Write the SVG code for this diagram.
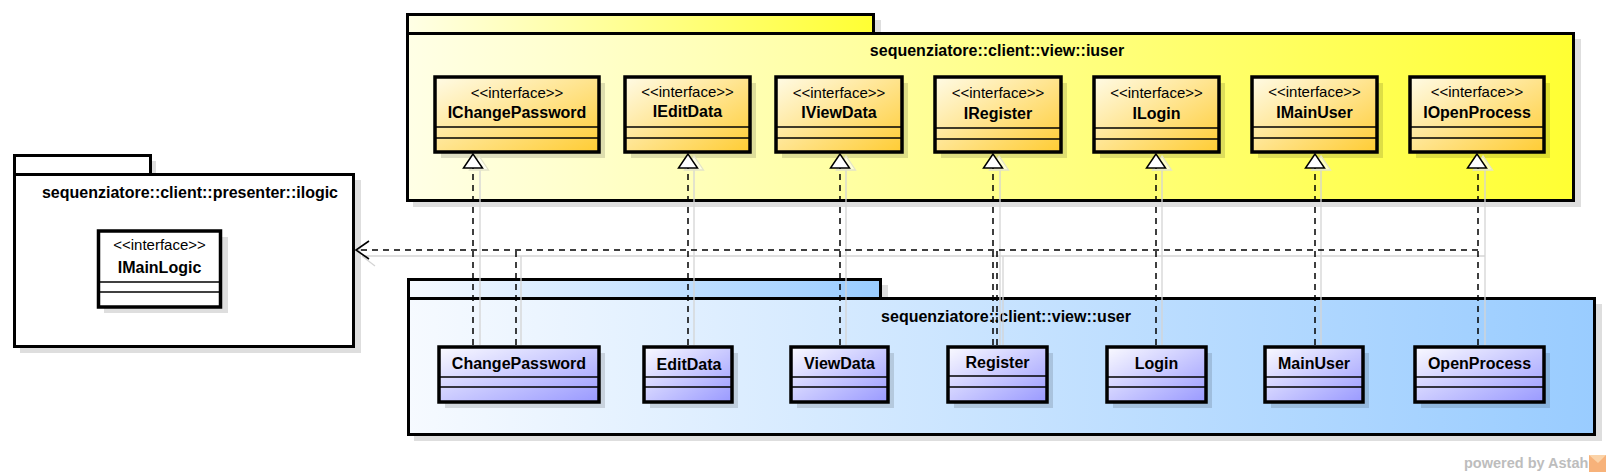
<svg xmlns="http://www.w3.org/2000/svg" width="1609" height="476" viewBox="0 0 1609 476">
<defs>
<linearGradient id="gYPkg" x1="0" y1="0" x2="1" y2="0"><stop offset="0" stop-color="#ffffe6"/><stop offset="1" stop-color="#ffff33"/></linearGradient>
<linearGradient id="gBPkg" x1="0" y1="0" x2="1" y2="0"><stop offset="0" stop-color="#f6faff"/><stop offset="1" stop-color="#99ccff"/></linearGradient>
<linearGradient id="gIf" x1="0" y1="0" x2="1" y2="1"><stop offset="0" stop-color="#fffbe6"/><stop offset="1" stop-color="#ffcc33"/></linearGradient>
<linearGradient id="gCl" x1="0" y1="0" x2="1" y2="1"><stop offset="0" stop-color="#fafaff"/><stop offset="1" stop-color="#9999ff"/></linearGradient>
</defs>
<style>
.pk{stroke:#000;stroke-width:3}
.sh{fill:#000;fill-opacity:0.13}
.bx{stroke:#000;stroke-width:3.5}
.cl{fill:url(#gCl)}
.if{fill:url(#gIf)}
.sep{stroke:#000;stroke-width:1.3}
.st{font-family:"Liberation Sans",Arial,sans-serif;font-size:15px;fill:#000;text-anchor:middle}
.nm{font-family:"Liberation Sans",Arial,sans-serif;font-size:16px;font-weight:bold;fill:#000;text-anchor:middle}
.dash{fill:none;stroke:#000;stroke-width:1.5;stroke-dasharray:6,5}
.shl{fill:none;stroke:#d4d4d4;stroke-width:1.3}
.tri{fill:#fff;stroke:#000;stroke-width:1.5}
.trs{fill:#fff;fill-opacity:0.6;stroke:#e4e4c8;stroke-width:1.3}
.wm{font-family:"Liberation Sans",Arial,sans-serif;font-size:14.5px;font-weight:bold;fill:#bdbdbd}
</style>

<g id="pkg-ilogic">
<rect class="sh" x="20" y="161" width="136" height="19"/>
<rect class="sh" x="20" y="180" width="341" height="173"/>
<rect class="pk" x="14.5" y="155.5" width="136" height="19" fill="#fff"/>
<rect class="pk" x="14.5" y="174.5" width="339" height="172" fill="#fff"/>
<text class="nm" x="190" y="198">sequenziatore::client::presenter::ilogic</text>
</g>
<g id="IMainLogic">
<rect class="sh" x="104" y="237" width="124" height="76"/>
<rect class="bx" x="98.5" y="231" width="122" height="76" fill="#fff"/>
<line class="sep" x1="98.5" y1="282" x2="220.5" y2="282"/>
<line class="sep" x1="98.5" y1="292" x2="220.5" y2="292"/>
<text class="st" x="159.5" y="250">&lt;&lt;interface&gt;&gt;</text>
<text class="nm" x="159.5" y="273">IMainLogic</text>
</g>

<g id="pkg-iuser">
<rect class="sh" x="413" y="20" width="468" height="19"/>
<rect class="sh" x="413" y="39" width="1168" height="168"/>
<rect class="pk" x="407.5" y="14.5" width="466" height="19" fill="url(#gYPkg)"/>
<rect class="pk" x="407.5" y="33.5" width="1166" height="167" fill="url(#gYPkg)"/>
<text class="nm" x="997" y="56">sequenziatore::client::view::iuser</text>
</g>

<g id="pkg-user">
<rect class="sh" x="414" y="285" width="474" height="19"/>
<rect class="sh" x="414" y="304" width="1188" height="137"/>
<rect class="pk" x="408.5" y="279.5" width="472" height="19" fill="url(#gBPkg)"/>
<rect class="pk" x="408.5" y="298.5" width="1186" height="136" fill="url(#gBPkg)"/>
<text class="nm" x="1006" y="322">sequenziatore::client::view::user</text>
</g>

<g id="IChangePassword">
<rect class="sh" x="441" y="83" width="164" height="75"/>
<rect class="bx if" x="435" y="77" width="164" height="75"/>
<line class="sep" x1="435" y1="127" x2="599" y2="127"/><line class="sep" x1="435" y1="138" x2="599" y2="138"/>
<text class="st" x="517" y="98">&lt;&lt;interface&gt;&gt;</text><text class="nm" x="517" y="118">IChangePassword</text>
</g>
<g id="IEditData">
<rect class="sh" x="631" y="83" width="125" height="75"/>
<rect class="bx if" x="625" y="77" width="125" height="75"/>
<line class="sep" x1="625" y1="127" x2="750" y2="127"/><line class="sep" x1="625" y1="138" x2="750" y2="138"/>
<text class="st" x="687.5" y="97">&lt;&lt;interface&gt;&gt;</text><text class="nm" x="687.5" y="117">IEditData</text>
</g>
<g id="IViewData">
<rect class="sh" x="782" y="83" width="126" height="75"/>
<rect class="bx if" x="776" y="77" width="126" height="75"/>
<line class="sep" x1="776" y1="127" x2="902" y2="127"/><line class="sep" x1="776" y1="138" x2="902" y2="138"/>
<text class="st" x="839" y="98">&lt;&lt;interface&gt;&gt;</text><text class="nm" x="839" y="118">IViewData</text>
</g>
<g id="IRegister">
<rect class="sh" x="941" y="83" width="126" height="75"/>
<rect class="bx if" x="935" y="77" width="126" height="75"/>
<line class="sep" x1="935" y1="128" x2="1061" y2="128"/><line class="sep" x1="935" y1="139" x2="1061" y2="139"/>
<text class="st" x="998" y="98">&lt;&lt;interface&gt;&gt;</text><text class="nm" x="998" y="119">IRegister</text>
</g>
<g id="ILogin">
<rect class="sh" x="1100" y="83" width="125" height="75"/>
<rect class="bx if" x="1094" y="77" width="125" height="75"/>
<line class="sep" x1="1094" y1="128" x2="1219" y2="128"/><line class="sep" x1="1094" y1="139" x2="1219" y2="139"/>
<text class="st" x="1156.5" y="98">&lt;&lt;interface&gt;&gt;</text><text class="nm" x="1156.5" y="119">ILogin</text>
</g>
<g id="IMainUser">
<rect class="sh" x="1258" y="83" width="125" height="75"/>
<rect class="bx if" x="1252" y="77" width="125" height="75"/>
<line class="sep" x1="1252" y1="127" x2="1377" y2="127"/><line class="sep" x1="1252" y1="138" x2="1377" y2="138"/>
<text class="st" x="1314.5" y="97">&lt;&lt;interface&gt;&gt;</text><text class="nm" x="1314.5" y="118">IMainUser</text>
</g>
<g id="IOpenProcess">
<rect class="sh" x="1416" y="83" width="134" height="75"/>
<rect class="bx if" x="1410" y="77" width="134" height="75"/>
<line class="sep" x1="1410" y1="127" x2="1544" y2="127"/><line class="sep" x1="1410" y1="138" x2="1544" y2="138"/>
<text class="st" x="1477" y="97">&lt;&lt;interface&gt;&gt;</text><text class="nm" x="1477" y="118">IOpenProcess</text>
</g>

<g id="ChangePassword">
<rect class="sh" x="445" y="353" width="160" height="55"/>
<rect class="bx cl" x="439" y="347" width="160" height="55"/>
<line class="sep" x1="439" y1="377" x2="599" y2="377"/><line class="sep" x1="439" y1="387" x2="599" y2="387"/>
<text class="nm" x="519" y="369">ChangePassword</text>
</g>
<g id="EditData">
<rect class="sh" x="650" y="353" width="88" height="55"/>
<rect class="bx cl" x="644" y="347" width="88" height="55"/>
<line class="sep" x1="644" y1="377" x2="732" y2="377"/><line class="sep" x1="644" y1="387" x2="732" y2="387"/>
<text class="nm" x="689" y="370">EditData</text>
</g>
<g id="ViewData">
<rect class="sh" x="797" y="353" width="97" height="55"/>
<rect class="bx cl" x="791" y="347" width="97" height="55"/>
<line class="sep" x1="791" y1="377" x2="888" y2="377"/><line class="sep" x1="791" y1="387" x2="888" y2="387"/>
<text class="nm" x="839.5" y="369">ViewData</text>
</g>
<g id="Register">
<rect class="sh" x="954" y="353" width="99" height="55"/>
<rect class="bx cl" x="948" y="347" width="99" height="55"/>
<line class="sep" x1="948" y1="376" x2="1047" y2="376"/><line class="sep" x1="948" y1="387" x2="1047" y2="387"/>
<text class="nm" x="997.5" y="368">Register</text>
</g>
<g id="Login">
<rect class="sh" x="1113" y="353" width="99" height="55"/>
<rect class="bx cl" x="1107" y="347" width="99" height="55"/>
<line class="sep" x1="1107" y1="377" x2="1206" y2="377"/><line class="sep" x1="1107" y1="387" x2="1206" y2="387"/>
<text class="nm" x="1156.5" y="369">Login</text>
</g>
<g id="MainUser">
<rect class="sh" x="1271" y="353" width="98" height="55"/>
<rect class="bx cl" x="1265" y="347" width="98" height="55"/>
<line class="sep" x1="1265" y1="377" x2="1363" y2="377"/><line class="sep" x1="1265" y1="387" x2="1363" y2="387"/>
<text class="nm" x="1314" y="369">MainUser</text>
</g>
<g id="OpenProcess">
<rect class="sh" x="1421" y="353" width="129" height="55"/>
<rect class="bx cl" x="1415" y="347" width="129" height="55"/>
<line class="sep" x1="1415" y1="377" x2="1544" y2="377"/><line class="sep" x1="1415" y1="387" x2="1544" y2="387"/>
<text class="nm" x="1479.5" y="369">OpenProcess</text>
</g>

<g id="connectors">
<g id="connector-shadows">
<path class="shl" d="M362 256 H1485"/>
<path class="shl" d="M480 170 V345 M521 256 V345 M694 170 V345 M846 170 V345 M1000 170 V345 M1003 256 V345 M1162 170 V345 M1321 170 V345 M1485 170 V345"/>
<path class="shl" d="M362 256 L375 266"/>
<polygon class="trs" points="479,156 469.5,170 488.5,170"/>
<polygon class="trs" points="694,156 684.5,170 703.5,170"/>
<polygon class="trs" points="846,156 836.5,170 855.5,170"/>
<polygon class="trs" points="999,156 989.5,170 1008.5,170"/>
<polygon class="trs" points="1162,156 1152.5,170 1171.5,170"/>
<polygon class="trs" points="1321,156 1311.5,170 1330.5,170"/>
<polygon class="trs" points="1483,156 1473.5,170 1492.5,170"/>
</g>
<path class="dash" d="M473 345 V168 M688 345 V168 M840 345 V168 M993 345 V168 M1156 345 V168 M1315 345 V168 M1478 345 V168"/>
<path class="dash" d="M1478 250 H358 M516 345 V250 M997 345 V250"/>
<path d="M369 241 L356 250 L369 259" fill="none" stroke="#000" stroke-width="1.6"/>
<polygon class="tri" points="473,154 463.5,168 482.5,168"/>
<polygon class="tri" points="688,154 678.5,168 697.5,168"/>
<polygon class="tri" points="840,154 830.5,168 849.5,168"/>
<polygon class="tri" points="993,154 983.5,168 1002.5,168"/>
<polygon class="tri" points="1156,154 1146.5,168 1165.5,168"/>
<polygon class="tri" points="1315,154 1305.5,168 1324.5,168"/>
<polygon class="tri" points="1477,154 1467.5,168 1486.5,168"/>
</g>

<g id="watermark">
<text class="wm" x="1464" y="468">powered by Astah</text>
<rect x="1589" y="455" width="17" height="17" fill="#f7b27a"/>
<path d="M1589 455 L1598 463 L1606 455 Z" fill="#fbd3a8"/>
</g>
</svg>
